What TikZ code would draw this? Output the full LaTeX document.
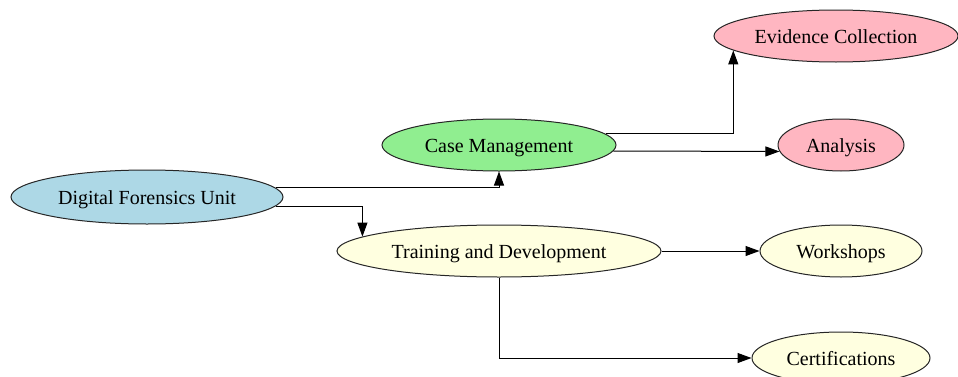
\documentclass[tikz,border=0pt]{standalone}
\usepackage{fontspec}
\setmainfont{Liberation Serif}
\usetikzlibrary{arrows.meta, shapes.geometric}

\definecolor{unitblue}{RGB}{173,216,230}
\definecolor{casegreen}{RGB}{144,238,144}
\definecolor{taskpink}{RGB}{255,182,193}
\definecolor{trainyellow}{RGB}{255,255,224}

\begin{document}
\begin{tikzpicture}[
  x=1pt, y=1pt,
  every node/.style={ellipse, draw=black!85, line width=1pt, inner sep=0pt,
    minimum height=52pt, text height=16pt, text depth=1pt,
    font=\fontsize{20}{24}\selectfont},
  link/.style={draw, line width=1pt, -{Triangle[length=14pt, width=10pt]}}
]
\useasboundingbox (0,0) rectangle (958,376);

% nodes
\node[fill=unitblue, minimum width=272pt, minimum height=54pt] (dfu) at (147,179) {Digital Forensics Unit};
\node[fill=casegreen, minimum width=234pt] (cm) at (499,231) {Case Management};
\node[fill=trainyellow, minimum width=324pt] (td) at (499,125) {Training and Development};
\node[fill=taskpink, minimum width=244pt] (ec) at (836,340) {Evidence Collection};
\node[fill=taskpink, minimum width=126pt] (an) at (841,231) {Analysis};
\node[fill=trainyellow, minimum width=162pt] (ws) at (841,125) {Workshops};
\node[fill=trainyellow, minimum width=178pt] (ce) at (841,18) {Certifications};

% edges
\path[link] (dfu.4) -| (cm.south);
\path[link] (dfu.-4) -| (td.174.4);
\path[link] (cm.6) -| (ec.188);
\path[link] (cm.-3.5) -- (an.186.6);
\path[link] (td.east) -- (ws.west);
\path[link] (td.south) |- (ce.west);
\end{tikzpicture}
\end{document}
